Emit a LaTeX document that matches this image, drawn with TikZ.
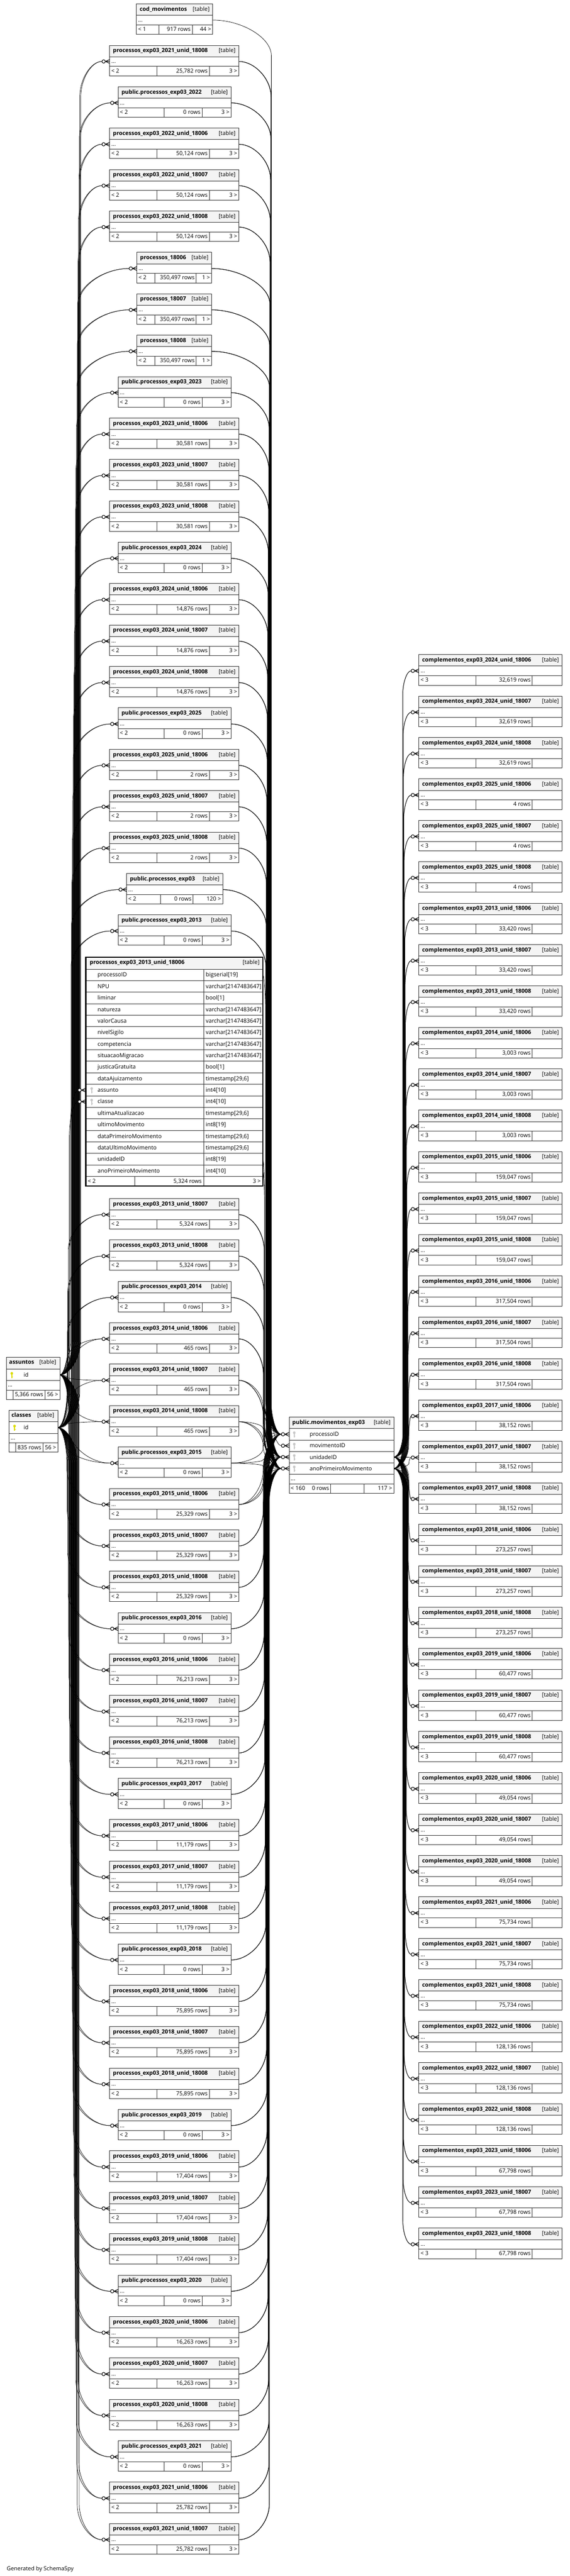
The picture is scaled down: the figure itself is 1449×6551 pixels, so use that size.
\documentclass[tikz,border=0pt]{standalone}
\usepackage{fontspec}
\setmainfont{Open Sans}
\usetikzlibrary{calc}
\pgfdeclarelayer{back}
\pgfdeclarelayer{bg}
\pgfsetlayers{back,bg,main}
\definecolor{hdr}{HTML}{F4F4F4}
\definecolor{bd}{HTML}{2E2E2E}
\definecolor{keyg}{HTML}{C8C8C8}
\definecolor{keyy}{HTML}{DCDC00}
\newcommand\fs{\fontsize{14.3}{17}\selectfont}
\newcommand\mtleft{< 2}
\tikzset{
  tb/.style={draw=bd, line width=1.2pt},
  hd/.style={tb, fill=hdr},
  bx/.style={tb, fill=white},
  txt/.style={inner sep=0pt, font=\fs},
  ttl/.style={inner sep=0pt, font=\fs\bfseries},
  cnx/.style={draw=black, line width=0.9pt},
  sym/.style={draw=black, line width=1.4pt},
}
% mini table: #1 id, #2 x1, #3 x2, #4 ytop, #5 d1, #6 d2, #7 title, #8 rows, #9 right
\newcommand\mtab[9]{%
  \filldraw[hd] (#2,#4) rectangle (#3,#4+29);
  \filldraw[bx] (#2,#4+29) rectangle (#3,#4+53.5);
  \filldraw[bx] (#2,#4+53.5) rectangle (#3,#4+77.5);
  \draw[tb] (#5,#4+53.5) -- (#5,#4+77.5) (#6,#4+53.5) -- (#6,#4+77.5);
  \node[ttl,anchor=base west] (#1-t) at (#2+8,#4+18) {#7};
  \node[txt,anchor=base east] (#1-k) at (#3-8,#4+18) {[table]};
  \node[txt,anchor=base west] (#1-d) at (#2+4,#4+45.5) {...};
  \node[txt,anchor=base west] (#1-l) at (#2+4,#4+69.5) {\mtleft};
  \node[txt,anchor=base east] (#1-r) at (#6-4,#4+69.5) {#8};
  \node[txt,anchor=base east] (#1-c) at (#3-4,#4+69.5) {#9};
  \coordinate (#1-e) at (#3,#4+41);
  \coordinate (#1-w) at (#2-20,#4+41);
  \coordinate (#1-p) at (#2,#4+41);
}
\newcommand\crowat[1]{%
  \begin{scope}[shift={(#1)}]
    \draw[sym] (-11,0) -- (0,-5) (-11,0) -- (0,5) (-20,0) -- (0,0);
    \filldraw[sym,fill=white] (-15.5,0) circle (4.3);
  \end{scope}}
\newcommand\keyic[3]{%
  \fill[#3] (#1,#2-4) circle (3.4);
  \fill[#3] (#1-1.2,#2-2) rectangle (#1+1.2,#2+8.5);
  \fill[#3] (#1+1.2,#2+4) rectangle (#1+3,#2+5.6);}
% edge: #1 from, #2 to, #3 trunk base x, #4 slope, #5 corner size
\newcommand\edg[5]{%
  \draw[cnx] let \p1=(#1), \p2=(#2),
     \n1={sign(\y2-\y1)}, \n2={min(#5,abs(\y2-\y1)/2)},
     \n3={#3+(#4)*abs(\y2-\y1)} in
   (\p1) .. controls ({(\x1+\n3)/2},\y1) and ({\n3+0pt},{\y1+\n1*\n2*0.5}) ..
   ({\n3+0pt},{\y1+\n1*\n2}) -- ({\n3+0pt},{\y2-\n1*\n2}) ..
   controls ({\n3+0pt},{\y2-\n1*\n2*0.5}) and ({(\x2+\n3)/2},\y2) .. (\p2);}
\newcommand\ledges[1]{%
  \edg{L#1-e}{mv-pid-w}{668}{0.006}{90}%
  \edg{L#1-e}{mv-uid-w}{668}{0.006}{90}%
  \edg{L#1-e}{mv-ano-w}{668}{0.006}{90}%
  \edg{as-e}{L#1-w}{172}{0.01}{90}%
  \edg{cl-e}{L#1-w}{168}{0.01}{90}}
\begin{document}
\begin{tikzpicture}[x=1pt,y=-1pt]
\begin{pgfonlayer}{back}
\fill[white] (0,0) rectangle (1449,6551);
\end{pgfonlayer}
\useasboundingbox (0,0) rectangle (1449,6551);

% ---------- left column ----------
{\renewcommand\mtleft{< 1}\mtab{cod}{347}{541}{10}{404.7}{488.7}{cod\_movimentos}{917 rows}{44 >}}

\foreach \ii/\yr/\un/\rows in {1/2021/18008/{25,782},3/2022/18006/{50,124},4/2022/18007/{50,124},5/2022/18008/{50,124},
  10/2023/18006/{30,581},11/2023/18007/{30,581},12/2023/18008/{30,581},
  14/2024/18006/{14,876},15/2024/18007/{14,876},16/2024/18008/{14,876},
  18/2025/18006/2,19/2025/18007/2,20/2025/18008/2,
  24/2013/18007/{5,324},25/2013/18008/{5,324},
  27/2014/18006/465,28/2014/18007/465,29/2014/18008/465,
  31/2015/18006/{25,329},32/2015/18007/{25,329},33/2015/18008/{25,329},
  35/2016/18006/{76,213},36/2016/18007/{76,213},37/2016/18008/{76,213},
  39/2017/18006/{11,179},40/2017/18007/{11,179},41/2017/18008/{11,179},
  43/2018/18006/{75,895},44/2018/18007/{75,895},45/2018/18008/{75,895},
  47/2019/18006/{17,404},48/2019/18007/{17,404},49/2019/18008/{17,404},
  51/2020/18006/{16,263},52/2020/18007/{16,263},53/2020/18008/{16,263},
  55/2021/18006/{25,782},56/2021/18007/{25,782}}{%
  \pgfmathsetmacro\yy{\ii<24 ? 10+105.3*\ii : 3048+105.3*(\ii-24)}
  \mtab{L\ii}{279}{607}{\yy}{399}{532}{processos\_exp03\_\yr\_unid\_\un}{\rows\ rows}{3 >}
}
\foreach \ii/\yr in {2/2022,9/2023,13/2024,17/2025,22/2013,26/2014,30/2015,34/2016,38/2017,42/2018,46/2019,50/2020,54/2021}{%
  \pgfmathsetmacro\yy{\ii<24 ? 10+105.3*\ii : 3048+105.3*(\ii-24)}
  \mtab{L\ii}{300.7}{587.3}{\yy}{416.7}{514}{public.processos\_exp03\_\yr}{0 rows}{3 >}
}
\mtab{L21}{322}{566}{2221.3}{408}{491}{public.processos\_exp03}{0 rows}{120 >}
\foreach \ii/\un in {6/18006,7/18007,8/18008}{%
  \pgfmathsetmacro\yy{10+105.3*\ii}
  \mtab{L\ii}{348}{538}{\yy}{394}{499}{processos\_\un}{350,497 rows}{1 >}
}

% ---------- focused table ----------
\filldraw[hd] (218,2434) rectangle (668,2464.5);
\node[ttl,anchor=base west] (big-t) at (228,2452) {processos\_exp03\_2013\_unid\_18006};
\node[txt,anchor=base east] (big-k) at (660,2452) {[table]};
\foreach \nm/\ty [count=\kk from 0] in {processoID/{bigserial[19]},NPU/{varchar[2147483647]},liminar/{bool[1]},
  natureza/{varchar[2147483647]},valorCausa/{varchar[2147483647]},nivelSigilo/{varchar[2147483647]},
  competencia/{varchar[2147483647]},situacaoMigracao/{varchar[2147483647]},justicaGratuita/{bool[1]},
  dataAjuizamento/{timestamp[29,6]},assunto/{int4[10]},classe/{int4[10]},ultimaAtualizacao/{timestamp[29,6]},
  ultimoMovimento/{int8[19]},dataPrimeiroMovimento/{timestamp[29,6]},dataUltimoMovimento/{timestamp[29,6]},
  unidadeID/{int8[19]},anoPrimeiroMovimento/{int4[10]}}{%
  \pgfmathsetmacro\ry{2464.5+29.3*\kk}
  \filldraw[bx] (218,\ry) rectangle (518,\ry+29.3);
  \filldraw[bx] (518,\ry) rectangle (668,\ry+29.3);
  \node[txt,anchor=base west] (big-n\kk) at (248,\ry+19.5) {\nm};
  \node[txt,anchor=base west] (big-y\kk) at (523,\ry+19.5) {\ty};
}
\filldraw[bx] (218,2991.9) rectangle (668,3016.5);
\draw[tb] (343,2991.9) -- (343,3016.5) (518,2991.9) -- (518,3016.5);
\node[txt,anchor=base west] (big-l) at (223,3009) {< 2};
\node[txt,anchor=base east] (big-r) at (513,3009) {5,324 rows};
\node[txt,anchor=base east] (big-c) at (663,3009) {3 >};
\draw[line width=3pt,draw=black] (218,2434) rectangle (668,3016.5);
\keyic{233}{2772.2}{keyg}
\keyic{233}{2801.5}{keyg}
\coordinate (big-pid-e) at (668,2479.2);
\coordinate (big-uid-e) at (668,2948);
\coordinate (big-ano-e) at (668,2977.3);
\coordinate (big-ass-p) at (218,2772.2);
\coordinate (big-ass-w) at (198,2772.2);
\coordinate (big-cls-p) at (218,2801.5);
\coordinate (big-cls-w) at (198,2801.5);

% ---------- assuntos / classes ----------
\filldraw[hd] (16,3452) rectangle (152,3482);
\node[ttl,anchor=base west] (as-t) at (23,3469) {assuntos};
\node[txt,anchor=base east] (as-k) at (143,3469) {[table]};
\filldraw[bx] (16,3482) rectangle (152,3511);
\keyic{30}{3496.5}{keyy}
\node[txt,anchor=base west] (as-n) at (60,3501) {id};
\filldraw[bx] (16,3511) rectangle (152,3535);
\node[txt,anchor=base west] (as-d) at (20,3527) {...};
\filldraw[bx] (16,3535) rectangle (152,3558.5);
\draw[tb] (33,3535) -- (33,3558.5) (114,3535) -- (114,3558.5);
\node[txt,anchor=base east] (as-r) at (110,3551.5) {5,366 rows};
\node[txt,anchor=base east] (as-c) at (148,3551.5) {56 >};
\coordinate (as-e) at (152,3496.5);

\filldraw[hd] (23,3587) rectangle (147,3616);
\node[ttl,anchor=base west] (cl-t) at (29,3604) {classes};
\node[txt,anchor=base east] (cl-k) at (138,3604) {[table]};
\filldraw[bx] (23,3616) rectangle (147,3645);
\keyic{37}{3630.5}{keyy}
\node[txt,anchor=base west] (cl-n) at (60,3635) {id};
\filldraw[bx] (23,3645) rectangle (147,3669);
\node[txt,anchor=base west] (cl-d) at (27,3661) {...};
\filldraw[bx] (23,3669) rectangle (147,3693);
\draw[tb] (40,3669) -- (40,3693) (109,3669) -- (109,3693);
\node[txt,anchor=base east] (cl-r) at (105,3686) {835 rows};
\node[txt,anchor=base east] (cl-c) at (143,3686) {56 >};
\coordinate (cl-e) at (147,3630.5);

% ---------- movimentos ----------
\filldraw[hd] (735,3603) rectangle (1001,3633);
\node[ttl,anchor=base west] (mv-t) at (743,3621.5) {public.movimentos\_exp03};
\node[txt,anchor=base east] (mv-k) at (993,3621.5) {[table]};
\foreach \nm/\tg [count=\kk from 0] in {processoID/pid,movimentoID/mid,unidadeID/uid,anoPrimeiroMovimento/ano}{%
  \pgfmathsetmacro\ry{3633+29*\kk}
  \filldraw[bx] (735,\ry) rectangle (1001,\ry+29);
  \keyic{748}{\ry+14.5}{keyg}
  \node[txt,anchor=base west] (mv-n\kk) at (787,\ry+19.5) {\nm};
  \coordinate (mv-\tg-p) at (735,\ry+14.5);
  \coordinate (mv-\tg-w) at (715,\ry+14.5);
  \coordinate (mv-\tg-e) at (1001,\ry+14.5);
}
\filldraw[bx] (735,3749) rectangle (1001,3773.5);
\node[txt,anchor=base west] (mv-d) at (739,3765) {...};
\filldraw[bx] (735,3773.5) rectangle (1001,3797.5);
\draw[tb] (841,3773.5) -- (841,3797.5) (925,3773.5) -- (925,3797.5);
\node[txt,anchor=base west] (mv-l) at (739,3790) {< 160};
\node[txt,anchor=base east] (mv-r) at (837,3790) {0 rows};
\node[txt,anchor=base east] (mv-c) at (997,3790) {117 >};

% ---------- right column ----------
\foreach \g/\yr/\rows in {0/2024/{32,619},1/2025/4,2/2013/{33,420},3/2014/{3,003},4/2015/{159,047},
   5/2016/{317,504},6/2017/{38,152},7/2018/{273,257},8/2019/{60,477},9/2020/{49,054},
   10/2021/{75,734},11/2022/{128,136},12/2023/{67,798}}{%
  \foreach \un [count=\cc from 0] in {18006,18007,18008}{%
    \pgfmathtruncatemacro\jj{3*\g+\cc}
    \pgfmathsetmacro\yy{1665+105.3*\jj}
    \renewcommand\mtleft{< 3}%
    \mtab{R\jj}{1065}{1429}{\yy}{1210}{1353}{complementos\_exp03\_\yr\_unid\_\un}{\rows\ rows}{}
  }}

\node[txt,anchor=base west] (gen) at (17,6537) {Generated by SchemaSpy};

% ---------- connectors ----------
\begin{pgfonlayer}{bg}
\foreach \ii in {1,...,22} {\ledges{\ii}}
\foreach \ii in {24,...,56} {\ledges{\ii}}
\edg{big-pid-e}{mv-pid-w}{668}{0.006}{90}
\edg{big-uid-e}{mv-uid-w}{668}{0.006}{90}
\edg{big-ano-e}{mv-ano-w}{668}{0.006}{90}
\edg{as-e}{big-ass-w}{172}{0.01}{90}
\edg{cl-e}{big-cls-w}{168}{0.01}{90}
\edg{cod-e}{mv-mid-w}{668}{0.006}{90}
\foreach \jj in {0,...,38} {%
  \edg{mv-uid-e}{R\jj-w}{1040}{-0.008}{60}
  \edg{mv-ano-e}{R\jj-w}{1040}{-0.008}{60}}
\end{pgfonlayer}

% ---------- end symbols ----------
\foreach \ii in {1,...,22} {\crowat{L\ii-p}}
\foreach \ii in {24,...,56} {\crowat{L\ii-p}}
\crowat{big-ass-p}
\crowat{big-cls-p}
\crowat{mv-pid-p}
\crowat{mv-mid-p}
\crowat{mv-uid-p}
\crowat{mv-ano-p}
\foreach \jj in {0,...,38} {\crowat{R\jj-p}}
\end{tikzpicture}
\end{document}
